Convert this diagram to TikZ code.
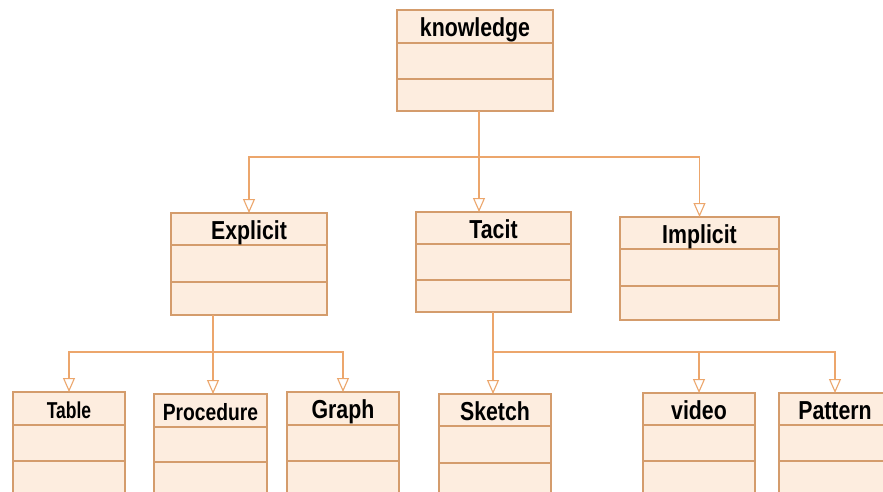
\documentclass[tikz,border=0pt]{standalone}
\usepackage{fontspec}
\usetikzlibrary{arrows.meta}
\newfontfamily\classfont[FakeStretch=0.82]{Liberation Sans}
\newfontfamily\classfontnarrow[FakeStretch=0.76]{Liberation Sans}
\definecolor{classborder}{RGB}{212,156,108}
\definecolor{classfill}{RGB}{253,237,223}
\definecolor{linkcolor}{RGB}{236,166,108}

\tikzset{
  classframe/.style={draw=classborder, line width=1.4pt, fill=classfill,
    inner sep=0pt, outer sep=0pt, rectangle},
  classrule/.style={draw=classborder, line width=1.4pt},
  classlabel/.style={inner sep=0pt, anchor=base, text=black},
  link/.style={draw=linkcolor, line width=1.1pt},
  inherit/.style={link, -{Triangle[open, length=14pt, width=12pt]}},
}

% #1 name, #2 left, #3 top, #4 right, #5 first rule, #6 second rule,
% #7 bottom, #8 font switch, #9 title
\newcommand\umlclass[9]{%
  \node[classframe, minimum width={(#4)-(#2)}, minimum height={(#7)-(#3)},
        anchor=north west] (#1) at (#2,#3) {};
  \draw[classrule] (#2,#5) -- (#4,#5) (#2,#6) -- (#4,#6);
  \node[classlabel, font=#8] (#1-title) at ({((#2)+(#4))/2},{(#3)+26.5}) {#9};
}

\begin{document}
\begin{tikzpicture}[x=1pt, y=-1pt]
  \useasboundingbox (0,0) rectangle (883,492);
  \fill[white] (0,0) rectangle (883,492);
  \clip (0,0) rectangle (883,492);

  \def\big{\classfont\bfseries\fontsize{26}{26}\selectfont}
  \def\proc{\classfont\bfseries\fontsize{23.5}{23.5}\selectfont}
  \def\tab{\classfontnarrow\bfseries\fontsize{23}{23}\selectfont}

  % classes
  \umlclass{knowledge}{397}{10}{553}{43}{79}{111}{\big}{knowledge}
  \umlclass{explicit}{171}{213}{327}{245}{282}{315}{\big}{Explicit}
  \umlclass{tacit}{416}{212}{571}{244}{280}{312}{\big}{Tacit}
  \umlclass{implicit}{620}{217}{779}{249}{286}{320}{\big}{Implicit}
  \umlclass{table}{13}{392}{125}{425}{461}{497}{\tab}{Table}
  \umlclass{procedure}{154}{394}{267}{427}{462}{497}{\proc}{Procedure}
  \umlclass{graph}{287}{392}{399}{425}{461}{497}{\big}{Graph}
  \umlclass{sketch}{439}{394}{551}{426}{463}{497}{\big}{Sketch}
  \umlclass{video}{643}{393}{755}{425}{461}{497}{\big}{video}
  \umlclass{pattern}{779}{393}{891}{425}{461}{497}{\big}{Pattern}

  % branch points of the generalisation trees
  \coordinate (kbus) at (479,157);
  \coordinate (ebus) at (213,352);
  \coordinate (tbus) at (493,352);

  % knowledge -> Explicit, Tacit, Implicit
  \draw[link] (knowledge.south -| kbus) -- (kbus);
  \draw[inherit] (kbus) -- (tacit.north -| kbus);
  \draw[inherit] (kbus) -| (explicit.north);
  \draw[inherit] (kbus) -| (implicit.north);

  % Explicit -> Table, Procedure, Graph
  \draw[inherit] (explicit.south -| ebus) -- (procedure.north -| ebus);
  \draw[inherit] (ebus) -| (table.north);
  \draw[inherit] (ebus) -| (graph.north);

  % Tacit -> Sketch, video, Pattern
  \draw[inherit] (tacit.south -| tbus) -- (sketch.north -| tbus);
  \draw[inherit] (tbus) -| (video.north);
  \draw[inherit] (tbus) -| (pattern.north);
\end{tikzpicture}
\end{document}
